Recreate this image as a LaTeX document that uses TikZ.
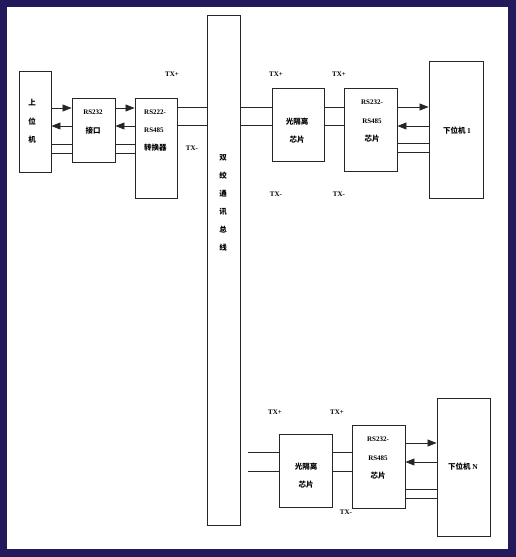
\documentclass[tikz,border=0pt]{standalone}
\usepackage{fontspec}
\setmainfont{Liberation Serif}
\newfontfamily\cjk{Noto Sans CJK SC}
\usetikzlibrary{arrows.meta}
\definecolor{framecol}{HTML}{221A5A}
\begin{document}
\begin{tikzpicture}[x=1pt,y=-1pt,
  box/.style={draw=black!85,line width=0.9pt,inner sep=0pt,minimum width=#1},
  lab/.style={font=\fontsize{7}{8}\selectfont\bfseries,inner sep=0pt},
  ctext/.style={font=\fontsize{7.5}{8}\selectfont\cjk\bfseries,inner sep=0pt},
  link/.style={draw=black!85,line width=0.8pt},
  arr/.style={link,-{Triangle[length=9pt,width=7pt]}}]
\useasboundingbox (0,0) rectangle (516,557);
\fill[framecol] (0,0) rectangle (516,557);
\fill[white] (7,7) rectangle (508,549);
% boxes
\node[box=32pt,minimum height=101pt] (host) at (35,121.5) {};
\node[box=43pt,minimum height=64pt] (rsa) at (93.5,130) {};
\node[box=42pt,minimum height=100pt] (conv) at (156,148) {};
\node[box=33pt,minimum height=510pt] (bus) at (223.5,270) {};
\node[box=52pt,minimum height=73pt] (optoA) at (298,124.5) {};
\node[box=53pt,minimum height=83pt] (chipA) at (370.5,129.5) {};
\node[box=54pt,minimum height=137pt] (devA) at (456,129.5) {};
\node[box=53pt,minimum height=73pt] (optoN) at (305.5,470.5) {};
\node[box=53pt,minimum height=83pt] (chipN) at (378.5,466.5) {};
\node[box=53pt,minimum height=138pt] (devN) at (463.5,467) {};
% box texts
\node[ctext] (t1) at (32,103) {上};
\node[ctext] (t2) at (32,122) {位};
\node[ctext] (t3) at (32,140) {机};
\node[lab] (t4) at (93,112) {RS232};
\node[ctext] (t5) at (93,131) {接口};
\node[lab,anchor=west] (t6) at (144,112) {RS222-};
\node[lab,anchor=west] (t7) at (144,130) {RS485};
\node[ctext,anchor=west] (t8) at (144,148) {转换器};
\node[ctext] (b1) at (223,158) {双};
\node[ctext] (b2) at (223,176) {绞};
\node[ctext] (b3) at (223,194) {通};
\node[ctext] (b4) at (223,212) {讯};
\node[ctext] (b5) at (223,230) {总};
\node[ctext] (b6) at (223,248) {线};
\node[ctext] (o1) at (297,122) {光隔离};
\node[ctext] (o2) at (297,140) {芯片};
\node[lab] (c1) at (372,102) {RS232-};
\node[lab] (c2) at (372,121) {RS485};
\node[ctext] (c3) at (372,139) {芯片};
\node[ctext] (d1) at (457,131) {下位机 {\rmfamily\bfseries 1}};
\node[ctext] (o3) at (306,467) {光隔离};
\node[ctext] (o4) at (306,485) {芯片};
\node[lab] (c4) at (378,439) {RS232-};
\node[lab] (c5) at (378,458) {RS485};
\node[ctext] (c6) at (378,476) {芯片};
\node[ctext] (d2) at (463,467) {下位机 {\rmfamily N}};
% TX labels
\node[lab] (x1) at (172,74) {TX+};
\node[lab] (x2) at (192,148) {TX-};
\node[lab] (x3) at (276,74) {TX+};
\node[lab] (x4) at (339,74) {TX+};
\node[lab] (x5) at (276,194) {TX-};
\node[lab] (x6) at (339,194) {TX-};
\node[lab] (x7) at (275,412) {TX+};
\node[lab] (x8) at (337,412) {TX+};
\node[lab] (x9) at (346,512) {TX-};
% connectors top
\draw[arr] (host.east |- 0,108) -- (rsa.west |- 0,108);
\draw[arr] (rsa.west |- 0,126) -- (host.east |- 0,126);
\draw[link] (host.east |- 0,144) -- (rsa.west |- 0,144);
\draw[link] (host.east |- 0,153) -- (rsa.west |- 0,153);
\draw[arr] (rsa.east |- 0,108) -- (conv.west |- 0,108);
\draw[arr] (conv.west |- 0,126) -- (rsa.east |- 0,126);
\draw[link] (rsa.east |- 0,144) -- (conv.west |- 0,144);
\draw[link] (rsa.east |- 0,153) -- (conv.west |- 0,153);
\draw[link] (conv.east |- 0,107) -- (bus.west |- 0,107);
\draw[link] (conv.east |- 0,125) -- (bus.west |- 0,125);
\draw[link] (bus.east |- 0,107) -- (optoA.west |- 0,107);
\draw[link] (bus.east |- 0,125) -- (optoA.west |- 0,125);
\draw[link] (optoA.east |- 0,107) -- (chipA.west |- 0,107);
\draw[link] (optoA.east |- 0,125) -- (chipA.west |- 0,125);
\draw[arr] (chipA.east |- 0,107) -- (devA.west |- 0,107);
\draw[arr] (devA.west |- 0,126) -- (chipA.east |- 0,126);
\draw[link] (chipA.east |- 0,143) -- (devA.west |- 0,143);
\draw[link] (chipA.east |- 0,152) -- (devA.west |- 0,152);
% connectors bottom
\coordinate (tapA) at (248,452);
\coordinate (tapB) at (248,471);
\draw[link] (tapA) -- (optoN.west |- tapA);
\draw[link] (tapB) -- (optoN.west |- tapB);
\draw[link] (optoN.east |- 0,452) -- (chipN.west |- 0,452);
\draw[link] (optoN.east |- 0,471) -- (chipN.west |- 0,471);
\draw[arr] (chipN.east |- 0,443) -- (devN.west |- 0,443);
\draw[arr] (devN.west |- 0,462) -- (chipN.east |- 0,462);
\draw[link] (chipN.east |- 0,489) -- (devN.west |- 0,489);
\draw[link] (chipN.east |- 0,498) -- (devN.west |- 0,498);
\end{tikzpicture}
\end{document}
